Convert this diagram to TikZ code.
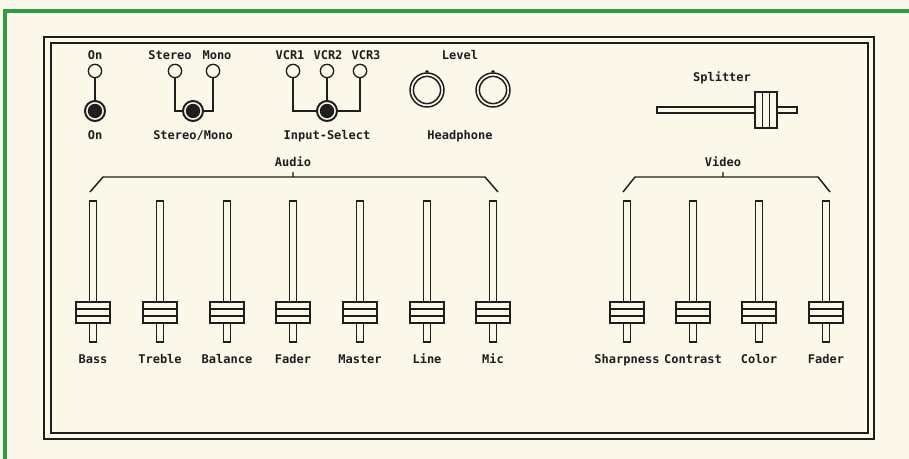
\documentclass[tikz,border=0pt]{standalone}
\usepackage{fontspec}
\setmonofont{DejaVu Sans Mono}
\usepackage{xcolor}
\definecolor{paper}{HTML}{FBF8EA}
\definecolor{edge}{HTML}{2E9E44}
\definecolor{ink}{HTML}{1E1E1E}
\usetikzlibrary{calc}

\tikzset{
  lbl/.style={inner sep=0pt, text=ink, text height=6.5pt, text depth=0pt},
  pin/.style={circle, draw=ink, line width=1pt, fill=paper, minimum size=10pt, inner sep=0pt},
  knob/.style={circle, draw=ink, line width=1.5pt, fill=paper, minimum size=15pt, inner sep=0pt,
    path picture={\fill[ink] (path picture bounding box.center) circle (5.4pt);}},
  dial/.style={circle, draw=ink, line width=1.1pt, fill=paper, minimum size=25.5pt, inner sep=0pt,
    path picture={\draw[ink,line width=1.1pt] (path picture bounding box.center) circle (10.2pt);}},
  wire/.style={ink, line width=1.1pt},
  part/.style={ink, line width=1.1pt, fill=paper}
}

\begin{document}
\begin{tikzpicture}[x=0.75pt, y=-0.75pt, font=\ttfamily\bfseries\fontsize{9}{10}\selectfont]
  % 1 unit = 1 px of the 909 x 459 panel, y runs downwards.
  \useasboundingbox (0,0) rectangle (909,459);
  \fill[paper] (0,0) rectangle (909,459);
  \draw[edge, line width=3pt] (5,459) -- (5,11) -- (909,11);
  % Double frame.
  \draw[ink, line width=1.9pt] (44,37) rectangle (874,439);
  \draw[ink, line width=1.6pt] (51,43) rectangle (868,433);

  % Power switch.
  \node[lbl]  (lon)  at (95,55)  {On};
  \node[pin]  (pon)  at (95,71)  {};
  \node[knob] (kon)  at (95,111) {};
  \node[lbl]  (lonb) at (95,135) {On};
  \draw[wire] (pon.south) -- (kon.north);

  % Stereo / mono.
  \node[lbl]  (lst)   at (170,55)  {Stereo};
  \node[lbl]  (lmo)   at (217,55)  {Mono};
  \node[pin]  (pst)   at (175,71)  {};
  \node[pin]  (pmo)   at (213,71)  {};
  \node[knob] (kstmo) at (193,111) {};
  \node[lbl]  (lstmo) at (193,135) {Stereo/Mono};
  \draw[wire] (pst.south) |- (kstmo.west);
  \draw[wire] (pmo.south) |- (kstmo.east);

  % Input select.
  \foreach \x/\n in {290/1, 328/2, 366/3}
    \node[lbl] (lvcr\n) at (\x,55) {VCR\n};
  \foreach \x/\n in {293/1, 327/2, 360/3}
    \node[pin] (pvcr\n) at (\x,71) {};
  \node[knob] (kin) at (327,111) {};
  \node[lbl]  (lin) at (327,135) {Input-Select};
  \draw[wire] (pvcr1.south) |- (kin.west);
  \draw[wire] (pvcr2.south) -- (kin.north);
  \draw[wire] (pvcr3.south) |- (kin.east);

  % Headphone level.
  \node[lbl]  (llev) at (460,55) {Level};
  \node[dial] (dl)   at (427,90) {};
  \node[dial] (dr)   at (493,90) {};
  \foreach \d in {dl, dr}
    \fill[ink] ([xshift=-1.8pt]\d.north) -- ([yshift=1.8pt]\d.north) -- ([xshift=1.8pt]\d.north) -- cycle;
  \node[lbl]  (lhp)  at (460,135) {Headphone};

  % Splitter.
  \node[lbl] (lspl) at (722,77) {Splitter};
  \draw[part] (657,107) rectangle (797,113);
  \draw[part] (755,92) rectangle (777,128);
  \draw[wire] (762.3,92) -- (762.3,128) (769.7,92) -- (769.7,128);

  % Group brackets.
  \node[lbl] (laud) at (293,162) {Audio};
  \draw[wire] (90,192) -- (103,177) -- (485,177) -- (498,192) (293,177) -- (293,172);
  \node[lbl] (lvid) at (723,162) {Video};
  \draw[wire] (623,192) -- (635,177) -- (818,177) -- (830,192) (723,177) -- (723,172);

  % Faders.
  \foreach \x/\n/\t in {93/bass/Bass, 160/treble/Treble, 227/bal/Balance, 293/afad/Fader,
      360/master/Master, 427/line/Line, 493/mic/Mic,
      627/sharp/Sharpness, 693/contr/Contrast, 759/color/Color, 826/vfad/Fader} {
    \draw[part] (\x-3.5,201) rectangle (\x+3.5,342);
    \draw[part] (\x-17,302) rectangle (\x+17,323);
    \draw[wire] (\x-17,309) -- (\x+17,309) (\x-17,316) -- (\x+17,316);
    \node[lbl] (l\n) at (\x,359) {\t};
  }
\end{tikzpicture}
\end{document}
